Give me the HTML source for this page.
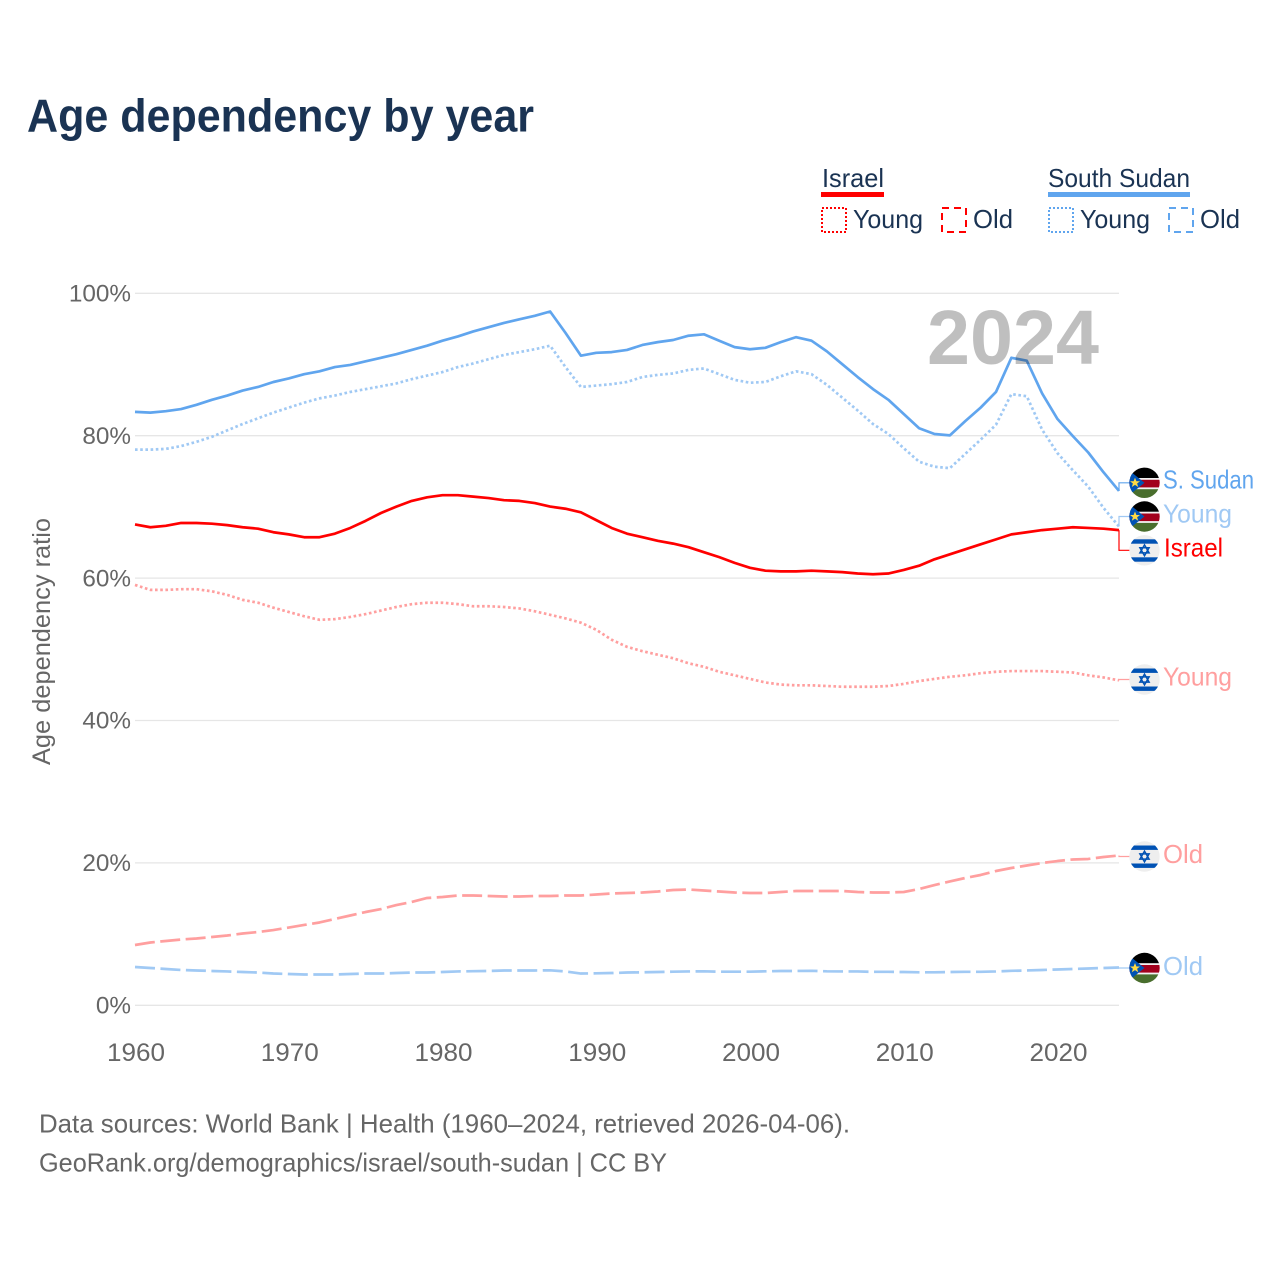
<!DOCTYPE html>
<html lang="en">
<head>
<meta charset="utf-8">
<title>Age dependency by year</title>
<style>
html,body{margin:0;padding:0;background:#fff;width:1280px;height:1280px;overflow:hidden}
svg{display:block;font-family:"Liberation Sans",sans-serif}
</style>
</head>
<body>
<svg id="chart" xmlns="http://www.w3.org/2000/svg" width="1280" height="1280" viewBox="0 0 1280 1280">
<defs>
  <clipPath id="flag-clip"><circle cx="0" cy="0" r="15.2"/></clipPath>
  <g id="flag-ss" clip-path="url(#flag-clip)">
    <rect x="-16" y="-16" width="32" height="32" fill="#f2f2f2"/>
    <rect x="-16" y="-16" width="32" height="11.2" fill="#000"/>
    <rect x="-16" y="-3" width="32" height="7.6" fill="#a2001d"/>
    <rect x="-16" y="6.4" width="32" height="10" fill="#496e2d"/>
    <polygon points="-15.5,-12.5 0,0 -15.5,12.5" fill="#0052b4"/>
    <polygon points="-9.5,-5 -8.1,-1.5 -4.5,-1.5 -7.4,0.7 -6.3,4.2 -9.5,2.1 -12.7,4.2 -11.6,0.7 -14.5,-1.5 -10.9,-1.5" fill="#ffda44"/>
  </g>
  <g id="flag-il" clip-path="url(#flag-clip)">
    <rect x="-16" y="-16" width="32" height="32" fill="#eeeeee"/>
    <rect x="-16" y="-11" width="32" height="4.4" fill="#0052b4"/>
    <rect x="-16" y="7" width="32" height="4.4" fill="#0052b4"/>
    <polygon points="0,-5.4 4.6,2.6 -4.6,2.6" fill="none" stroke="#0052b4" stroke-width="1.5"/>
    <polygon points="0,5.4 4.6,-2.6 -4.6,-2.6" fill="none" stroke="#0052b4" stroke-width="1.5"/>
  </g>
</defs>

<text x="27" y="131.5" font-size="46" font-weight="700" fill="#1a3353" textLength="507" lengthAdjust="spacingAndGlyphs">Age dependency by year</text>

<g>
  <text x="822" y="187" font-size="26" fill="#1a3353" textLength="62" lengthAdjust="spacingAndGlyphs">Israel</text>
  <rect x="821" y="192" width="63" height="5" fill="#ff0000"/>
  <rect x="822" y="208" width="24" height="24" fill="none" stroke="#ff0000" stroke-width="2" stroke-dasharray="2 2"/>
  <text x="853" y="228" font-size="26" fill="#1a3353" textLength="70" lengthAdjust="spacingAndGlyphs">Young</text>
  <rect x="942" y="208" width="24" height="24" fill="none" stroke="#ff0000" stroke-width="2" stroke-dasharray="7 5"/>
  <text x="973" y="228" font-size="26" fill="#1a3353" textLength="40" lengthAdjust="spacingAndGlyphs">Old</text>
  <text x="1048" y="187" font-size="26" fill="#1a3353" textLength="142" lengthAdjust="spacingAndGlyphs">South Sudan</text>
  <rect x="1048" y="192" width="142" height="5" fill="#60a5ee"/>
  <rect x="1049" y="208" width="24" height="24" fill="none" stroke="#60a5ee" stroke-width="2" stroke-dasharray="2 2"/>
  <text x="1080" y="228" font-size="26" fill="#1a3353" textLength="70" lengthAdjust="spacingAndGlyphs">Young</text>
  <rect x="1169" y="208" width="24" height="24" fill="none" stroke="#60a5ee" stroke-width="2" stroke-dasharray="7 5"/>
  <text x="1200" y="228" font-size="26" fill="#1a3353" textLength="40" lengthAdjust="spacingAndGlyphs">Old</text>
</g>

<text transform="translate(50,765) rotate(-90)" x="0" y="0" font-size="25" fill="#666" textLength="247" lengthAdjust="spacingAndGlyphs">Age dependency ratio</text>

<g id="grid"></g>
<g id="y-ticks"></g>
<g id="x-ticks"></g>
<g id="connectors"></g>
<g id="series"></g>

<text x="927" y="364" font-size="77" font-weight="700" fill="#000" fill-opacity="0.25" textLength="172" lengthAdjust="spacingAndGlyphs">2024</text>

<g>
  <use href="#flag-ss" x="1144.5" y="482.8"/>
  <use href="#flag-ss" x="1144.5" y="516.5"/>
  <use href="#flag-il" x="1144.5" y="550.3"/>
  <use href="#flag-il" x="1144.5" y="679.5"/>
  <use href="#flag-il" x="1144.5" y="856.5"/>
  <use href="#flag-ss" x="1144.5" y="968"/>
  <text x="1163" y="488.5" font-size="26" fill="#60a5ee" textLength="91" lengthAdjust="spacingAndGlyphs">S. Sudan</text>
  <text x="1163" y="522.5" font-size="26" fill="#a0c9f4" textLength="69" lengthAdjust="spacingAndGlyphs">Young</text>
  <text x="1164" y="556.5" font-size="26" fill="#ff0000" textLength="59" lengthAdjust="spacingAndGlyphs">Israel</text>
  <text x="1163" y="685.5" font-size="26" fill="#ff9f9f" textLength="69" lengthAdjust="spacingAndGlyphs">Young</text>
  <text x="1163" y="863" font-size="26" fill="#ff9f9f" textLength="40" lengthAdjust="spacingAndGlyphs">Old</text>
  <text x="1163" y="975" font-size="26" fill="#a0c9f4" textLength="40" lengthAdjust="spacingAndGlyphs">Old</text>
</g>

<text x="39" y="1132.5" font-size="26" fill="#666" textLength="811" lengthAdjust="spacingAndGlyphs">Data sources: World Bank | Health (1960–2024, retrieved 2026-04-06).</text>
<text x="39" y="1171.5" font-size="26" fill="#666" textLength="628" lengthAdjust="spacingAndGlyphs">GeoRank.org/demographics/israel/south-sudan | CC BY</text>
</svg>

<script>
const years = [1960,1961,1962,1963,1964,1965,1966,1967,1968,1969,1970,1971,1972,1973,1974,1975,1976,1977,1978,1979,1980,1981,1982,1983,1984,1985,1986,1987,1988,1989,1990,1991,1992,1993,1994,1995,1996,1997,1998,1999,2000,2001,2002,2003,2004,2005,2006,2007,2008,2009,2010,2011,2012,2013,2014,2015,2016,2017,2018,2019,2020,2021,2022,2023,2024];
const southSudanTotal = [83.3,83.2,83.4,83.7,84.3,85.0,85.6,86.3,86.8,87.5,88.0,88.6,89.0,89.6,89.9,90.4,90.9,91.4,92.0,92.6,93.3,93.9,94.6,95.2,95.8,96.3,96.8,97.4,94.4,91.2,91.6,91.7,92.0,92.7,93.1,93.4,94.0,94.2,93.3,92.4,92.1,92.3,93.1,93.8,93.3,91.8,90.0,88.2,86.5,85.0,83.0,81.0,80.2,80.0,82.0,83.9,86.1,90.9,90.5,85.9,82.3,79.9,77.6,74.8,72.2];
const southSudanYoung = [78.0,78.0,78.1,78.5,79.1,79.8,80.7,81.6,82.4,83.2,83.9,84.6,85.2,85.6,86.1,86.5,86.9,87.3,87.9,88.4,88.9,89.6,90.1,90.7,91.3,91.7,92.1,92.6,89.6,86.8,87.0,87.2,87.5,88.2,88.5,88.7,89.2,89.4,88.6,87.8,87.4,87.5,88.3,89.0,88.6,87.1,85.3,83.5,81.6,80.2,78.2,76.3,75.6,75.4,77.4,79.4,81.5,85.8,85.5,80.8,77.5,75.1,72.8,69.8,67.2];
const southSudanOld = [5.34,5.2,5.06,4.92,4.85,4.78,4.71,4.63,4.56,4.42,4.35,4.28,4.28,4.28,4.35,4.42,4.42,4.49,4.56,4.56,4.63,4.71,4.75,4.78,4.85,4.85,4.85,4.87,4.71,4.42,4.45,4.49,4.56,4.59,4.63,4.68,4.71,4.73,4.68,4.68,4.68,4.73,4.78,4.78,4.8,4.73,4.71,4.71,4.66,4.66,4.63,4.59,4.59,4.63,4.66,4.66,4.71,4.8,4.85,4.92,4.99,5.06,5.13,5.2,5.27];
const israelTotal = [67.5,67.1,67.3,67.7,67.7,67.6,67.4,67.1,66.9,66.4,66.1,65.7,65.7,66.2,67.0,68.0,69.1,70.0,70.8,71.3,71.6,71.6,71.4,71.2,70.9,70.8,70.5,70.0,69.7,69.2,68.1,67.0,66.2,65.7,65.2,64.8,64.3,63.6,62.9,62.1,61.4,61.0,60.9,60.9,61.0,60.9,60.8,60.6,60.5,60.6,61.1,61.7,62.6,63.3,64.0,64.7,65.4,66.1,66.4,66.7,66.9,67.1,67.0,66.9,66.7];
const israelYoung = [59.0,58.3,58.3,58.4,58.4,58.1,57.6,56.9,56.5,55.8,55.2,54.6,54.1,54.2,54.5,54.9,55.4,55.9,56.3,56.5,56.5,56.3,56.0,56.0,55.9,55.7,55.3,54.8,54.3,53.7,52.7,51.3,50.3,49.7,49.2,48.7,48.0,47.5,46.8,46.3,45.8,45.3,45.0,44.9,44.9,44.8,44.7,44.7,44.7,44.8,45.1,45.5,45.8,46.1,46.3,46.6,46.8,46.9,46.9,46.9,46.8,46.7,46.3,46.0,45.6];
const israelOld = [8.43,8.78,8.99,9.2,9.34,9.55,9.76,10.04,10.25,10.53,10.88,11.24,11.59,12.08,12.57,13.06,13.48,14.04,14.47,15.03,15.17,15.38,15.38,15.31,15.24,15.24,15.31,15.31,15.38,15.38,15.52,15.66,15.73,15.8,15.94,16.15,16.22,16.08,15.94,15.8,15.73,15.73,15.87,16.01,16.01,16.01,16.01,15.87,15.8,15.8,15.87,16.29,16.85,17.35,17.84,18.26,18.82,19.24,19.59,19.94,20.22,20.44,20.51,20.79,21.0];
const yTickValues = [0,20,40,60,80,100];
const yTickLabels = ["0%","20%","40%","60%","80%","100%"];
const xTickValues = [1960,1970,1980,1990,2000,2010,2020];
const xTickLabels = ["1960","1970","1980","1990","2000","2010","2020"];

const NS = 'http://www.w3.org/2000/svg';
const xScale = function (year) { return 135 + (year - 1960) * (1119 - 135) / (2024 - 1960); };
const yScale = function (pct) { return 1005 - pct * (1005 - 293) / 100; };

function make(tag, attrs, parent) {
  const el = document.createElementNS(NS, tag);
  for (const k in attrs) el.setAttribute(k, attrs[k]);
  parent.appendChild(el);
  return el;
}

const gridG = document.getElementById('grid');
const yTickG = document.getElementById('y-ticks');
yTickValues.forEach(function (v, i) {
  const line = make('line', {x1: 135, x2: 1119, y1: yScale(v) + 0.3, y2: yScale(v) + 0.3, stroke: '#e6e6e6', 'stroke-width': 1.3}, gridG);
  
  
  const t = make('text', {x: 131, y: yScale(v) + 8.5, 'font-size': 24.3, fill: '#666', 'text-anchor': 'end'}, yTickG);
  t.textContent = yTickLabels[i];
  
  
});

const xTickG = document.getElementById('x-ticks');
xTickValues.forEach(function (v, i) {
  const t = make('text', {x: xScale(v) + 1, y: 1061, 'font-size': 25, fill: '#666', 'text-anchor': 'middle', textLength: 58, lengthAdjust: 'spacingAndGlyphs'}, xTickG);
  t.textContent = xTickLabels[i];
  
  
});

function pathFrom(values) {
  return values.map(function (v, i) {
    return (i ? 'L' : 'M') + xScale(years[i]).toFixed(2) + ' ' + yScale(v).toFixed(2);
  }).join(' ');
}

const connG = document.getElementById('connectors');
const seriesG = document.getElementById('series');

function drawSeries(values, name, color, width, dash, flagY) {
  const lastY = yScale(values[values.length - 1]);
  const conn = make('path', {d: 'M1119 ' + lastY.toFixed(2) + ' V' + flagY + ' H1131', fill: 'none', stroke: color, 'stroke-width': 1.2}, connG);
  
  
  const attrs = {d: pathFrom(values), fill: 'none', stroke: color, 'stroke-width': width, 'stroke-linejoin': 'round'};
  if (dash) attrs['stroke-dasharray'] = dash;
  const p = make('path', attrs, seriesG);
  
  
}

drawSeries(southSudanOld, 'south-sudan-old', '#a0c9f4', 2.7, '20 5.5', 968);
drawSeries(israelOld, 'israel-old', '#ff9f9f', 2.7, '20 5.5', 856.5);
drawSeries(israelYoung, 'israel-young', '#ff9f9f', 2.7, '2.6 2.6', 679.5);
drawSeries(southSudanYoung, 'south-sudan-young', '#a0c9f4', 2.7, '2.6 2.6', 516.5);
drawSeries(israelTotal, 'israel-total', '#ff0000', 2.7, '', 550.3);
drawSeries(southSudanTotal, 'south-sudan-total', '#60a5ee', 2.7, '', 482.8);
</script>
</body>
</html>
